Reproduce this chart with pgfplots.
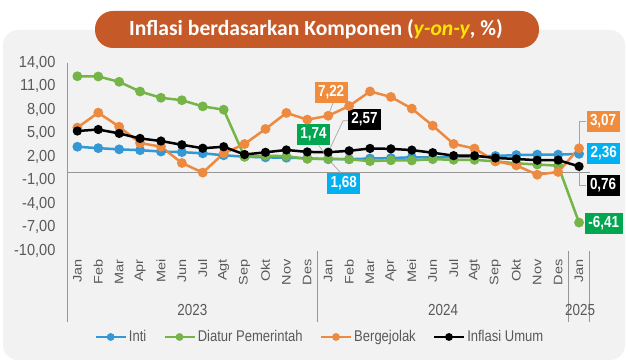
\documentclass[border=0pt]{standalone}
\usepackage{graphicx}
\usepackage{pgfplots}
\pgfplotsset{compat=1.18}
\usepackage{fontspec}
\setmainfont{Liberation Sans}
\newfontfamily\narrow{Liberation Sans}[FakeStretch=0.84]
\newfontfamily\ticknarrow{Liberation Sans}[FakeStretch=0.91]
\newfontfamily\titlefont{Carlito}
\newcommand\m[1]{\scalebox{1}[0.85]{#1}}
\definecolor{bgcol}{RGB}{242,242,242}
\definecolor{pill}{RGB}{197,90,40}
\definecolor{ttlyellow}{RGB}{255,230,0}
\definecolor{cinti}{RGB}{52,152,212}
\definecolor{cdiatur}{RGB}{117,181,72}
\definecolor{cberg}{RGB}{237,138,63}
\definecolor{bblue}{RGB}{0,176,240}
\definecolor{bgreen}{RGB}{0,166,80}
\definecolor{borange}{RGB}{240,140,60}
\definecolor{txtgray}{RGB}{89,89,89}
\definecolor{axgray}{RGB}{150,150,150}
\definecolor{leadgray}{RGB}{166,166,166}
\begin{document}
\begin{tikzpicture}
\path[use as bounding box] (0pt,0pt) rectangle (628pt,363pt);
\fill[bgcol, rounded corners=15pt] (3pt,3pt) rectangle (625pt,333pt);
\fill[pill, rounded corners=18pt] (95pt,315pt) rectangle (539pt,352pt);
\node[text=white] at (316pt,333.5pt) {\titlefont\bfseries\fontsize{21.6}{24}\selectfont Inflasi berdasarkan Komponen (\textcolor{ttlyellow}{\itshape y-on-y}, \%)};
\begin{axis}[
  at={(66.9pt,112.3pt)}, anchor=south west,
  width=522.6pt, height=188pt, scale only axis,
  xmin=-0.5, xmax=24.5, ymin=-10, ymax=14,
  clip=false,
  axis x line*=bottom, axis y line*=left,
  axis line style={draw=none},
  xtick={0,...,24},
  xticklabels={\m{Jan},\m{Feb},\m{Mar},\m{Apr},\m{Mei},\m{Jun},\m{Jul},\m{Agt},\m{Sep},\m{Okt},\m{Nov},\m{Des},\m{Jan},\m{Feb},\m{Mar},\m{Apr},\m{Mei},\m{Jun},\m{Jul},\m{Agt},\m{Sep},\m{Okt},\m{Nov},\m{Des},\m{Jan}},
  xticklabel style={rotate=90, anchor=east, font=\fontsize{14.5}{16}\selectfont, text=txtgray, xshift=-5pt},
  ytick={-10,-7,-4,-1,2,5,8,11,14},
  major tick length=0pt,
  yticklabel style={font=\ticknarrow\fontsize{16}{18}\selectfont, text=txtgray, xshift=-8pt,
    /pgf/number format/.cd, fixed, fixed zerofill, precision=2, use comma, assume math mode=true},
  legend style={at={(0.484,-0.459)}, anchor=center, legend columns=4, draw=none, fill=none,
    font=\narrow\fontsize{15.5}{18}\selectfont, text=txtgray,
    /tikz/every even column/.append style={column sep=15pt}},
  legend cell align=left,
  legend image code/.code={\draw[#1, line width=2.5pt, mark size=2.6pt, mark repeat=2, mark phase=2] plot coordinates {(0pt,0pt) (15pt,0pt) (30pt,0pt)};},
]
% axis lines
\draw[axgray, line width=0.8pt] (axis cs:-0.5,0) -- (axis cs:24.5,0);
\draw[axgray, line width=0.8pt] (axis cs:-0.5,14) -- (axis cs:-0.5,-19.1);
\draw[axgray, line width=0.8pt] (axis cs:11.5,-10) -- (axis cs:11.5,-19.1);
\draw[axgray, line width=0.8pt] (axis cs:23.5,-10) -- (axis cs:23.5,-19.1);
\draw[axgray, line width=0.8pt] (axis cs:24.5,-10) -- (axis cs:24.5,-19.1);
\node[text=txtgray, font=\narrow\fontsize{16}{18}\selectfont] at (axis cs:5.5,-17.6) {2023};
\node[text=txtgray, font=\narrow\fontsize{16}{18}\selectfont] at (axis cs:17.5,-17.6) {2024};
\node[text=txtgray, font=\narrow\fontsize{16}{18}\selectfont] at (axis cs:24.05,-17.6) {2025};

\addplot[cinti, line width=2.5pt, mark=*, mark size=3.6pt] coordinates {
(0,3.27)(1,3.09)(2,2.94)(3,2.83)(4,2.66)(5,2.58)(6,2.43)(7,2.18)(8,2.00)(9,1.91)(10,1.87)(11,1.80)
(12,1.68)(13,1.68)(14,1.77)(15,1.82)(16,1.93)(17,1.90)(18,1.95)(19,2.02)(20,2.09)(21,2.21)(22,2.26)(23,2.26)(24,2.36)};
\addlegendentry{Inti}
\addplot[cdiatur, line width=2.5pt, mark=*, mark size=3.6pt] coordinates {
(0,12.27)(1,12.24)(2,11.56)(3,10.32)(4,9.52)(5,9.21)(6,8.42)(7,8.00)(8,1.99)(9,2.12)(10,2.07)(11,1.72)
(12,1.74)(13,1.67)(14,1.43)(15,1.54)(16,1.52)(17,1.68)(18,1.60)(19,1.60)(20,1.40)(21,1.15)(22,1.00)(23,0.85)(24,-6.41)};
\addlegendentry{Diatur Pemerintah}
\addplot[cberg, line width=2.5pt, mark=*, mark size=3.6pt] coordinates {
(0,5.71)(1,7.62)(2,5.83)(3,3.74)(4,3.28)(5,1.20)(6,-0.03)(7,2.42)(8,3.62)(9,5.54)(10,7.59)(11,6.73)
(12,7.22)(13,8.47)(14,10.33)(15,9.63)(16,8.14)(17,5.96)(18,3.63)(19,3.04)(20,1.43)(21,0.89)(22,-0.30)(23,0.05)(24,3.07)};
\addlegendentry{Bergejolak}
\addplot[black, line width=2.5pt, mark=*, mark size=3.3pt] coordinates {
(0,5.28)(1,5.47)(2,4.97)(3,4.33)(4,4.00)(5,3.52)(6,3.08)(7,3.27)(8,2.28)(9,2.56)(10,2.86)(11,2.61)
(12,2.57)(13,2.75)(14,3.05)(15,3.00)(16,2.84)(17,2.51)(18,2.13)(19,2.12)(20,1.84)(21,1.71)(22,1.55)(23,1.57)(24,0.76)};
\addlegendentry{Inflasi Umum}

% leader lines
\draw[leadgray, line width=0.7pt] (axis cs:12,7.22) -- (axis cs:12.24,8.95);
\draw[leadgray, line width=0.7pt] (axis cs:12,2.57) -- (axis cs:12.71,6.58) -- (axis cs:12.95,6.58);
\draw[leadgray, line width=0.7pt] (axis cs:12,1.74) -- (axis cs:11.55,3.45);
\draw[leadgray, line width=0.7pt] (axis cs:12,1.68) -- (axis cs:12.6,-0.05);
\draw[leadgray, line width=0.7pt] (axis cs:24,3.07) -- (axis cs:24,6.55) -- (axis cs:24.34,6.55);
\draw[leadgray, line width=0.7pt] (axis cs:24,0.76) -- (axis cs:24,-1.6) -- (axis cs:24.34,-1.6);
% data labels
\tikzset{dlab/.style={text=white, font=\narrow\bfseries\fontsize{16}{18}\selectfont, minimum height=21pt, inner xsep=3.5pt, inner ysep=2pt}}
\node[dlab, fill=borange] at (axis cs:12.14,10.19) {7,22};
\node[dlab, fill=black] at (axis cs:13.74,6.74) {2,57};
\node[dlab, fill=bgreen] at (axis cs:11.30,4.89) {1,74};
\node[dlab, fill=bblue] at (axis cs:12.74,-1.43) {1,68};
\node[dlab, fill=borange] at (axis cs:25.15,6.55) {3,07};
\node[dlab, fill=bblue] at (axis cs:25.18,2.46) {2,36};
\node[dlab, fill=black] at (axis cs:25.15,-1.62) {0,76};
\node[dlab, fill=bgreen] at (axis cs:25.18,-6.47) {-6,41};
\end{axis}
\end{tikzpicture}
\end{document}
